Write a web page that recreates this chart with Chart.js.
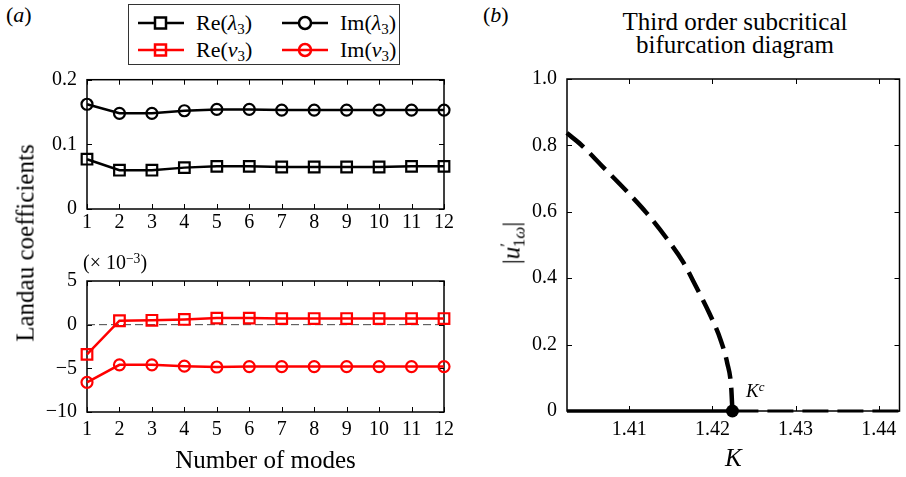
<!DOCTYPE html>
<html>
<head>
<meta charset="utf-8">
<script src="https://cdn.jsdelivr.net/npm/chart.js@4.4.1/dist/chart.umd.min.js"></script>
<style>
  body { margin: 0; background: #fff; font-family: 'Liberation Serif', 'Times New Roman', serif; }
  #wrap { position: relative; width: 906px; height: 477px; overflow: hidden; background: #fff; }
  canvas { position: absolute; }
  .txt { position: absolute; white-space: nowrap; color: #000; line-height: 1; }
  #legend { position: absolute; left: 128px; top: 4px; width: 270px; height: 59px; border: 1.5px solid #333; background: #fff; }
  .item { position: absolute; height: 24px; font-size: 22px; display: flex; align-items: center; }
  .item svg { margin-right: 12px; }
  sub { font-size: 0.68em; vertical-align: -0.3em; line-height: 0; }
  sup { font-size: 0.68em; vertical-align: 0.45em; line-height: 0; }
</style>
</head>
<body>
<div id="wrap">
  <canvas id="topChart" width="460" height="165" style="left:0;top:70px"></canvas>
  <canvas id="bottomChart" width="460" height="222" style="left:0;top:255px"></canvas>
  <canvas id="bifChart" width="426" height="417" style="left:480px;top:60px"></canvas>

  <div class="txt" style="left:6px;top:4px;font-size:22px">(<i>a</i>)</div>
  <div class="txt" style="left:483px;top:4px;font-size:22px">(<i>b</i>)</div>

  <div id="legend">
    <div class="item" style="left:9px;top:6px">
      <svg width="46" height="20"><line x1="0" y1="10" x2="46" y2="10" stroke="#000" stroke-width="2.5"/><rect x="17" y="4.5" width="11" height="11" fill="#fff" stroke="#000" stroke-width="2.5"/></svg>
      <span>Re(<i>λ</i><sub>3</sub>)</span>
    </div>
    <div class="item" style="left:153px;top:6px">
      <svg width="46" height="20"><line x1="0" y1="10" x2="46" y2="10" stroke="#000" stroke-width="2.5"/><circle cx="23" cy="10" r="6" fill="#fff" stroke="#000" stroke-width="2.5"/></svg>
      <span>Im(<i>λ</i><sub>3</sub>)</span>
    </div>
    <div class="item" style="left:9px;top:33px">
      <svg width="46" height="20"><line x1="0" y1="10" x2="46" y2="10" stroke="#f00" stroke-width="2.5"/><rect x="17" y="4.5" width="11" height="11" fill="none" stroke="#f00" stroke-width="2.5"/></svg>
      <span>Re(<i>ν</i><sub>3</sub>)</span>
    </div>
    <div class="item" style="left:153px;top:33px">
      <svg width="46" height="20"><line x1="0" y1="10" x2="46" y2="10" stroke="#f00" stroke-width="2.5"/><circle cx="23" cy="10" r="6" fill="none" stroke="#f00" stroke-width="2.5"/></svg>
      <span>Im(<i>ν</i><sub>3</sub>)</span>
    </div>
  </div>

  <div class="txt" style="left:25px;top:243px;font-size:25px;transform:translate(-50%,-50%) rotate(-90deg)">Landau coefficients</div>
  <div class="txt" style="left:83px;top:252px;font-size:20px">(× 10<sup>−3</sup>)</div>

  <div class="txt" style="left:735px;top:10px;font-size:25px;text-align:center;line-height:23px;transform:translateX(-50%)">Third order subcritical<br>bifurcation diagram</div>
  <div class="txt" style="left:511px;top:243px;font-size:25px;transform:translate(-50%,-50%) rotate(-90deg)">|<i>u</i><sup>′</sup><sub style="margin-left:-0.25em">1<i>ω</i></sub>|</div>
  <div class="txt" style="left:746px;top:381px;font-size:19px"><i>K</i><sup><i>c</i></sup></div>
</div>

<script>
// panel (a): Landau coefficients vs number of modes
const modes = ['1', '2', '3', '4', '5', '6', '7', '8', '9', '10', '11', '12'];
const reLambda = [0.077, 0.060, 0.060, 0.064, 0.066, 0.066, 0.065, 0.065, 0.065, 0.065, 0.066, 0.066];
const imLambda = [0.162, 0.148, 0.148, 0.152, 0.154, 0.154, 0.153, 0.153, 0.153, 0.153, 0.153, 0.153];
// values in units of 1e-3
const reNu = [-3.4, 0.45, 0.5, 0.6, 0.75, 0.75, 0.7, 0.7, 0.7, 0.7, 0.7, 0.7];
const imNu = [-6.6, -4.6, -4.6, -4.75, -4.85, -4.8, -4.8, -4.8, -4.8, -4.8, -4.8, -4.8];
const topTicks = [0, 0.1, 0.2];
const bottomTicks = [-10, -5, 0, 5];

// panel (b): bifurcation diagram
const kBranch = [1.40248, 1.40419, 1.40675, 1.40972, 1.41209, 1.41446, 1.41644, 1.41802, 1.41961, 1.42098, 1.42178, 1.42225, 1.42240];
const uBranch = [0.837, 0.802, 0.737, 0.661, 0.596, 0.521, 0.450, 0.375, 0.295, 0.214, 0.144, 0.073, 0];
const kStable = [1.4025, 1.4224];
const kUnstable = [1.4224, 1.4425];
const kCritical = [1.4224];
const kTicks = [1.41, 1.42, 1.43, 1.44];
const uTicks = [0, 0.2, 0.4, 0.6, 0.8, 1.0];

const SERIF = "'Liberation Serif', 'Times New Roman', serif";
Chart.defaults.font.family = SERIF;
Chart.defaults.color = '#000';
const tickFont = { family: SERIF, size: 20 };
const CLEAR = 'rgba(0,0,0,0)';

// box frame + inward tick marks on all four sides
const frame = {
    id: 'frame',
    beforeDatasetsDraw(chart, args, opts) {
        const { ctx, chartArea: a, scales: { x, y } } = chart;
        ctx.save();
        ctx.strokeStyle = '#000';
        ctx.lineWidth = 1.5;
        ctx.strokeRect(a.left, a.top, a.right - a.left, a.bottom - a.top);
        ctx.lineWidth = 1;
        const len = 5;
        ctx.beginPath();
        x.ticks.forEach((t, i) => {
            const px = Math.round(x.getPixelForTick(i)) + 0.5;
            ctx.moveTo(px, a.bottom); ctx.lineTo(px, a.bottom - len);
            ctx.moveTo(px, a.top); ctx.lineTo(px, a.top + len);
        });
        y.ticks.forEach((t, i) => {
            const py = Math.round(y.getPixelForTick(i)) + 0.5;
            ctx.moveTo(a.left, py); ctx.lineTo(a.left + len, py);
            ctx.moveTo(a.right, py); ctx.lineTo(a.right - len, py);
        });
        ctx.stroke();
        if (opts.zeroLine) {
            const py = y.getPixelForValue(0);
            ctx.strokeStyle = '#444';
            ctx.setLineDash([8, 4]);
            ctx.beginPath();
            ctx.moveTo(a.left, py); ctx.lineTo(a.right, py);
            ctx.stroke();
        }
        ctx.restore();
    }
};

function fixedTicks(values) {
    return s => { s.ticks = values.map(v => ({ value: v })); };
}

function fitBox(w, h) {
    return s => {
        if (w != null) s.width = w;
        if (h != null) s.height = h;
        s.paddingLeft = 0; s.paddingRight = 0; s.paddingTop = 0; s.paddingBottom = 0;
    };
}

function seriesDataset(data, color, style) {
    return {
        data: data,
        borderColor: color,
        borderWidth: 2.5,
        pointStyle: style,
        pointRadius: style === 'rect' ? 7.5 : 5.5,
        pointBorderWidth: 2.2,
        pointBorderColor: color,
        pointBackgroundColor: CLEAR,
        tension: 0,
        clip: 12
    };
}

function modesOptions(yMin, yMax, yTicks, fmt, xHeight, labelPad, withTitle, padding) {
    return {
        responsive: false,
        animation: false,
        layout: { padding: padding },
        plugins: { legend: { display: false }, tooltip: { enabled: false }, frame: { zeroLine: withTitle } },
        scales: {
            x: {
                offset: false,
                grid: { display: false, drawTicks: false },
                border: { display: false },
                ticks: { font: tickFont, color: '#000', padding: labelPad, maxRotation: 0, autoSkip: false },
                title: {
                    display: withTitle, text: 'Number of modes', color: '#000',
                    font: { family: SERIF, size: 25 }, padding: { top: 0, bottom: 1 }
                },
                afterFit: fitBox(null, xHeight)
            },
            y: {
                min: yMin, max: yMax,
                grid: { display: false, drawTicks: false },
                border: { display: false },
                ticks: { font: tickFont, color: '#000', padding: 10, callback: fmt },
                afterBuildTicks: fixedTicks(yTicks),
                afterFit: fitBox(87, null)
            }
        }
    };
}

new Chart(document.getElementById('topChart'), {
    type: 'line',
    data: {
        labels: modes,
        datasets: [
            seriesDataset(reLambda, '#000', 'rect'),
            seriesDataset(imLambda, '#000', 'circle')
        ]
    },
    options: modesOptions(0, 0.2, topTicks, v => v === 0 ? '0' : v.toFixed(1), 26, 2, false,
        { top: 9, right: 16, left: 0, bottom: 0 }),
    plugins: [frame]
});

new Chart(document.getElementById('bottomChart'), {
    type: 'line',
    data: {
        labels: modes,
        datasets: [
            seriesDataset(reNu, '#f00', 'rect'),
            seriesDataset(imNu, '#f00', 'circle')
        ]
    },
    options: modesOptions(-10, 5, bottomTicks, v => v < 0 ? '\u2212' + Math.abs(v) : String(v), 65, 6, true,
        { top: 26, right: 16, left: 0, bottom: 0 }),
    plugins: [frame]
});

const toXY = (xs, ys) => xs.map((x, i) => ({ x: x, y: ys[i] }));

new Chart(document.getElementById('bifChart'), {
    type: 'line',
    data: {
        datasets: [
            {
                data: toXY(kBranch, uBranch),
                borderColor: '#000', borderWidth: 4.5, borderDash: [22, 9],
                pointRadius: 0, cubicInterpolationMode: 'monotone', clip: 10
            },
            {
                data: toXY(kStable, kStable.map(() => 0)),
                borderColor: '#000', borderWidth: 3.5, pointRadius: 0, clip: 10
            },
            {
                data: toXY(kUnstable, kUnstable.map(() => 0)),
                borderColor: '#000', borderWidth: 3, borderDash: [26, 9], pointRadius: 0, clip: 10
            },
            {
                data: toXY(kCritical, [0]),
                showLine: false, pointRadius: 6.5, pointBackgroundColor: '#000',
                pointBorderColor: '#000', pointBorderWidth: 0, clip: 10
            }
        ]
    },
    options: {
        responsive: false,
        animation: false,
        layout: { padding: { top: 19, right: 1, left: 0, bottom: 0 } },
        plugins: { legend: { display: false }, tooltip: { enabled: false }, frame: { zeroLine: false } },
        scales: {
            x: {
                type: 'linear', min: 1.4025, max: 1.4425,
                grid: { display: false, drawTicks: false },
                border: { display: false },
                ticks: { font: tickFont, color: '#000', padding: 7, maxRotation: 0, callback: v => v.toFixed(2) },
                afterBuildTicks: fixedTicks(kTicks),
                title: {
                    display: true, text: 'K', color: '#000',
                    font: { family: SERIF, size: 25, style: 'italic' }, padding: { top: 0, bottom: 3 }
                },
                afterFit: fitBox(null, 66)
            },
            y: {
                min: 0, max: 1,
                grid: { display: false, drawTicks: false },
                border: { display: false },
                ticks: { font: tickFont, color: '#000', padding: 10, callback: v => v === 0 ? '0' : v.toFixed(1) },
                afterBuildTicks: fixedTicks(uTicks),
                afterFit: fitBox(87, null)
            }
        }
    },
    plugins: [frame]
});
</script>
</body>
</html>
